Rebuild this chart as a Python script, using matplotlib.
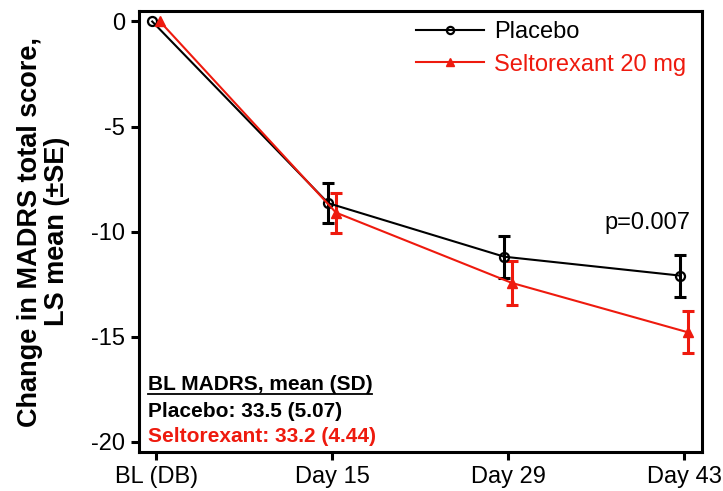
import numpy as np
import matplotlib
matplotlib.use("Agg")
import matplotlib.pyplot as plt

plt.rcParams['font.family'] = ['Liberation Sans', 'DejaVu Sans']

# data
visits = ["BL (DB)", "Day 15", "Day 29", "Day 43"]
placebo_mean = [0.0, -8.65, -11.2, -12.1]
placebo_se = [0.0, 0.95, 1.0, 1.0]
selto_mean = [0.0, -9.1, -12.45, -14.8]
selto_se = [0.0, 0.95, 1.05, 1.0]

RED = "#ee1a0e"
x = np.arange(len(visits))
shift = 0.022

fig = plt.figure(figsize=(7.23, 4.91), dpi=100)
ax = fig.add_axes([0.1923, 0.0794, 0.7787, 0.8982])

ax.errorbar(x[1:] - shift, placebo_mean[1:], yerr=placebo_se[1:], fmt="none",
            ecolor="black", elinewidth=2.2, capsize=4, capthick=2.2, zorder=2)
ax.errorbar(x[1:] + shift, selto_mean[1:], yerr=selto_se[1:], fmt="none",
            ecolor=RED, elinewidth=2.2, capsize=4, capthick=2.2, zorder=2)
ax.plot(x - shift, placebo_mean, color="black", lw=1.5, marker="o", ms=6.5,
        mfc="none", mec="black", mew=1.6, label="Placebo", zorder=3)
ax.plot(x + shift, selto_mean, color=RED, lw=1.5, marker="^", ms=7,
        mfc=RED, mec=RED, label="Seltorexant 20 mg", zorder=4)

ax.set_xlim(-0.097, 3.102)
ax.set_ylim(-20.5, 0.5)
ax.set_xticks(x)
ax.set_xticklabels(visits, fontsize=17)
ax.set_yticks([0, -5, -10, -15, -20])
ax.set_yticklabels(["0", "-5", "-10", "-15", "-20"], fontsize=17)
ax.tick_params(axis="both", length=6, width=2.2, pad=4)
for s in ax.spines.values():
    s.set_linewidth(2.2)

ax.set_ylabel("Change in MADRS total score,\nLS mean (\u00b1SE)",
              fontsize=19.5, fontweight="bold", linespacing=1.05)
ax.yaxis.set_label_coords(-0.1226, 0.5)

leg = ax.legend(loc="upper left", bbox_to_anchor=(416 / 723, 1 - 21 / 491),
                bbox_transform=fig.transFigure, frameon=False, fontsize=17,
                handlelength=2.9, handletextpad=0.42, markerscale=0.8,
                borderaxespad=0, borderpad=0, labelspacing=0.45)
for txt, c in zip(leg.get_texts(), ["black", RED]):
    txt.set_color(c)

ax.text(3.034, -9.59, "p=0.007", fontsize=17, ha="right", va="center")

ax.text(-0.045, -17.3, "BL MADRS, mean (SD)", fontsize=15, fontweight="bold",
        ha="left", va="center")
ax.plot([-0.045, 1.227], [-17.73, -17.73], color="black", lw=1.3)
ax.text(-0.045, -18.58, "Placebo: 33.5 (5.07)", fontsize=15, fontweight="bold",
        ha="left", va="center")
ax.text(-0.045, -19.77, "Seltorexant: 33.2 (4.44)", fontsize=15,
        fontweight="bold", color=RED, ha="left", va="center")

fig.savefig("out.png", dpi=100)
